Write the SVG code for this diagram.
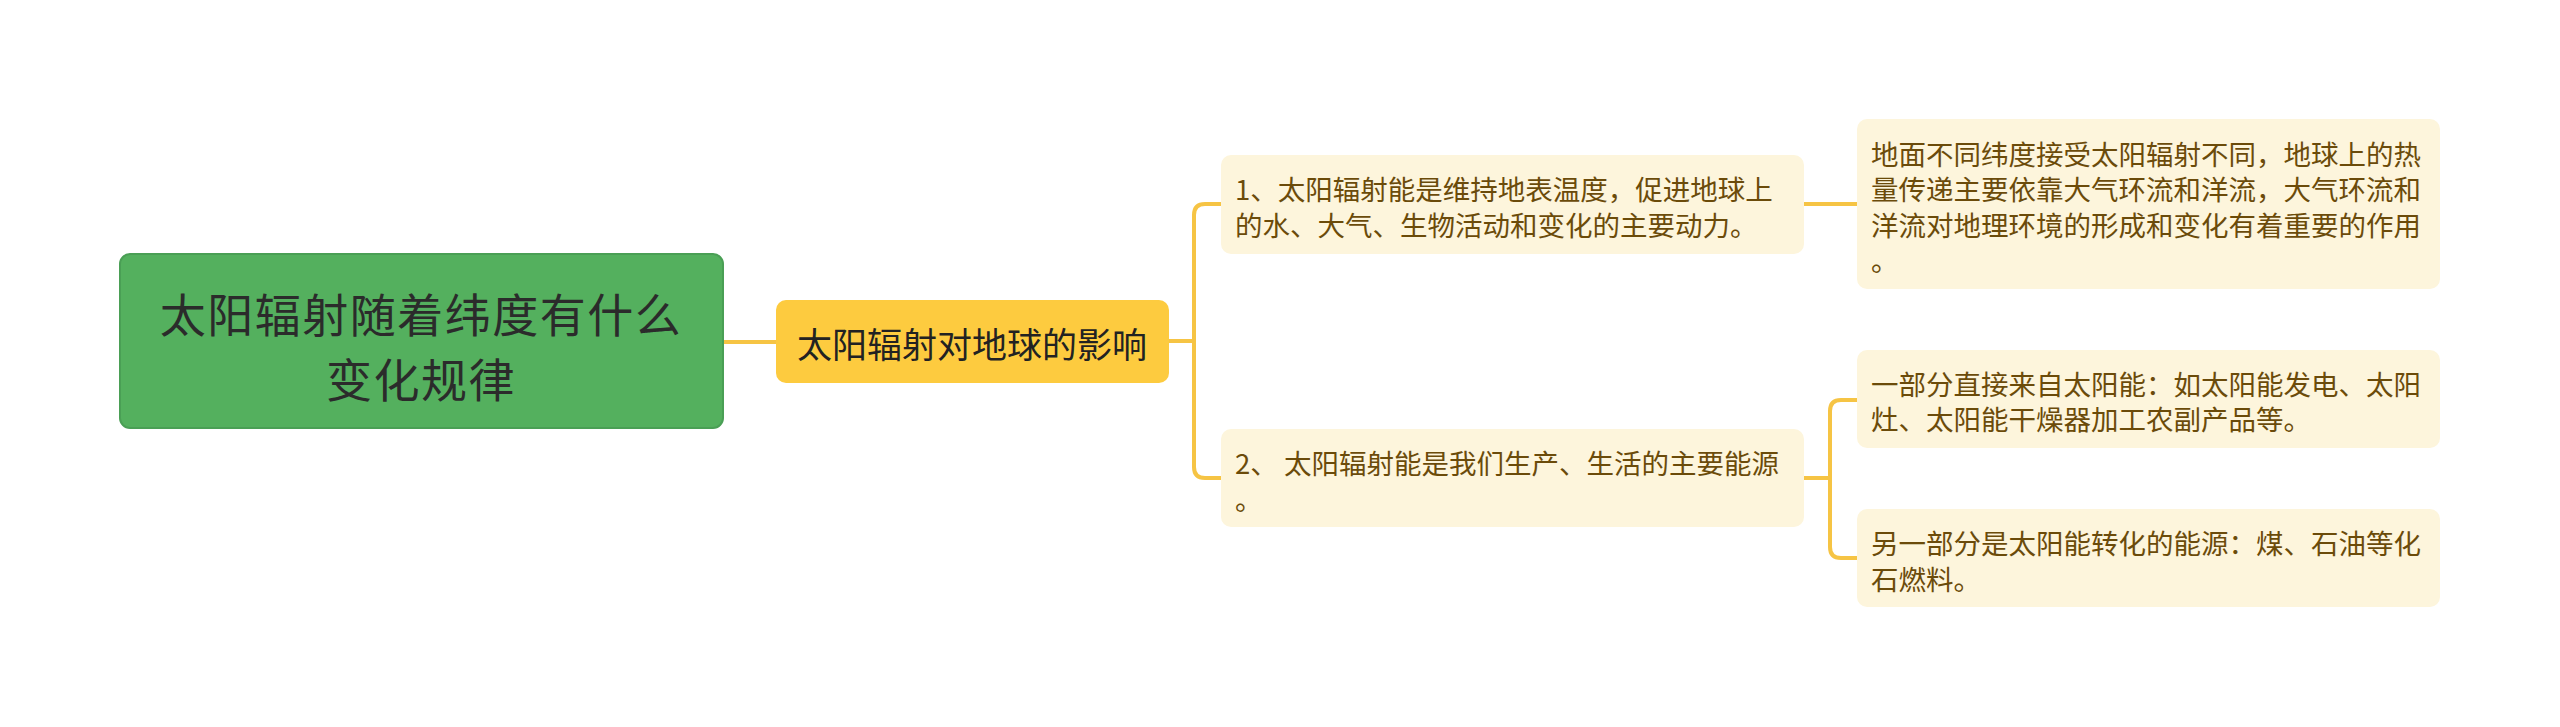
<svg xmlns="http://www.w3.org/2000/svg" width="2560" height="727" viewBox="0 0 2560 727">
<style>
.t{font-family:"Noto Sans CJK SC","Noto Sans",sans-serif;dominant-baseline:central}
.root{fill:#54b05e;stroke:#4a9f55;stroke-width:2}
.rt{font-size:46px;fill:#2b2b2b;text-anchor:middle;letter-spacing:1.5px}
.l1{fill:#fdcb3f}
.l1t{font-size:35px;fill:#222;text-anchor:middle}
.l2{fill:#fdf5dc}
.l2t{font-size:27.5px;fill:#6b4b0a}
.c{fill:none;stroke:#f6c444;stroke-width:4;stroke-linecap:round}
</style>
<rect width="2560" height="727" fill="#ffffff"/>
<g id="connectors">
<path class="c" d="M723 342 H776"/>
<path class="c" d="M1169 341 H1194 M1221 204 H1205 Q1194 204 1194 215 V467 Q1194 478 1205 478 H1221"/>
<path class="c" d="M1804 204 H1857"/>
<path class="c" d="M1804 478 H1830 M1857 400 H1841 Q1830 400 1830 411 V547 Q1830 558 1841 558 H1857"/>
</g>
<g id="root">
<rect class="root" x="120" y="254" width="603" height="174" rx="10"/>
<text class="t rt" x="421" y="312">太阳辐射随着纬度有什么</text>
<text class="t rt" x="421" y="377">变化规律</text>
</g>
<g id="n1">
<rect class="l1" x="776" y="300" width="393" height="83" rx="10"/>
<text class="t l1t" x="972" y="342">太阳辐射对地球的影响</text>
</g>
<g id="n2a">
<rect class="l2" x="1221" y="155" width="583" height="99" rx="10"/>
<text class="t l2t" x="1235" y="188">1、太阳辐射能是维持地表温度，促进地球上</text>
<text class="t l2t" x="1235" y="224">的水、大气、生物活动和变化的主要动力。</text>
</g>
<g id="n2b">
<rect class="l2" x="1221" y="429" width="583" height="98" rx="10"/>
<text class="t l2t" x="1235" y="462">2、 太阳辐射能是我们生产、生活的主要能源</text>
<text class="t l2t" x="1235" y="498">。</text>
</g>
<g id="n3a">
<rect class="l2" x="1857" y="119" width="583" height="170" rx="10"/>
<text class="t l2t" x="1871" y="153">地面不同纬度接受太阳辐射不同，地球上的热</text>
<text class="t l2t" x="1871" y="188">量传递主要依靠大气环流和洋流，大气环流和</text>
<text class="t l2t" x="1871" y="224">洋流对地理环境的形成和变化有着重要的作用</text>
<text class="t l2t" x="1871" y="259">。</text>
</g>
<g id="n3b">
<rect class="l2" x="1857" y="350" width="583" height="98" rx="10"/>
<text class="t l2t" x="1871" y="383">一部分直接来自太阳能：如太阳能发电、太阳</text>
<text class="t l2t" x="1871" y="418">灶、太阳能干燥器加工农副产品等。</text>
</g>
<g id="n3c">
<rect class="l2" x="1857" y="509" width="583" height="98" rx="10"/>
<text class="t l2t" x="1871" y="542">另一部分是太阳能转化的能源：煤、石油等化</text>
<text class="t l2t" x="1871" y="578">石燃料。</text>
</g>
</svg>
